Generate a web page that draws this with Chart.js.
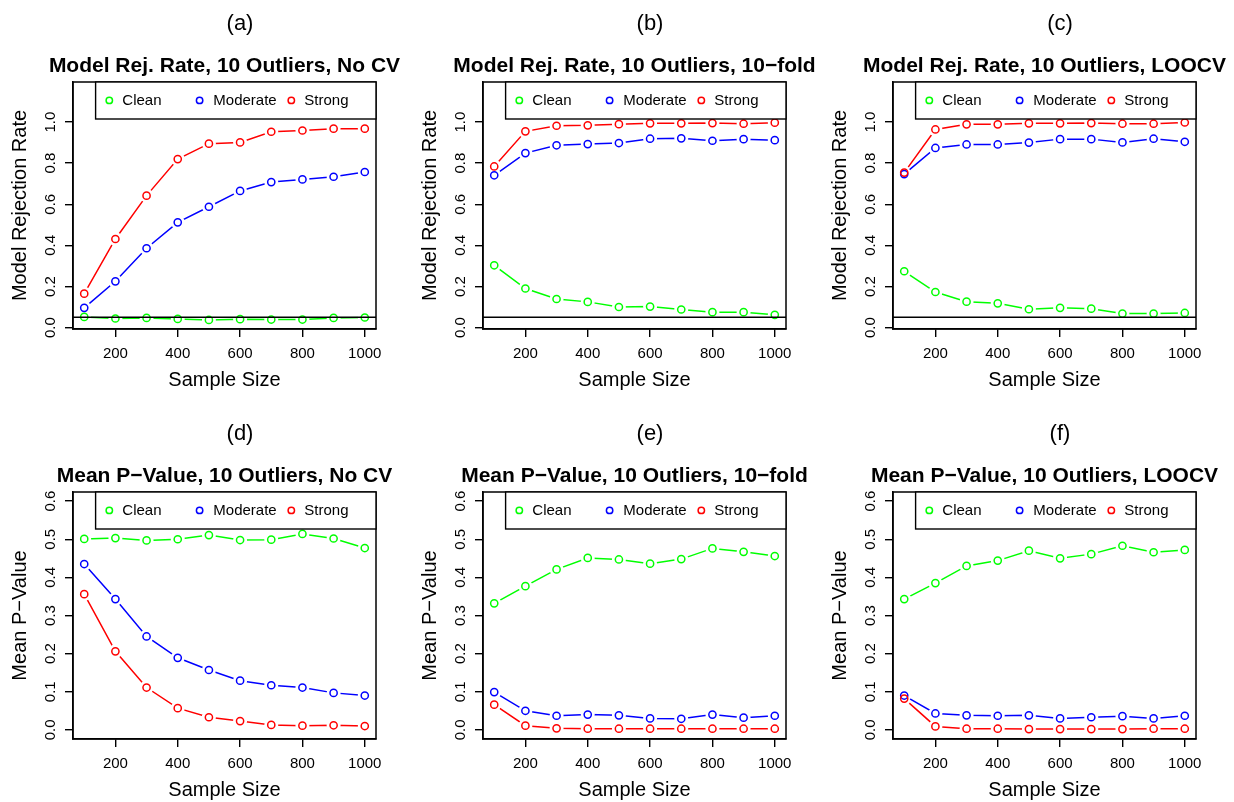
<!DOCTYPE html>
<html>
<head>
<meta charset="utf-8">
<script src="https://cdn.jsdelivr.net/npm/chart.js@4.4.1/dist/chart.umd.min.js"></script>
<style>
html, body { margin: 0; padding: 0; background: #fff; overflow: hidden; }
#wrap { position: relative; width: 1234px; height: 802px; overflow: hidden; }
#wrap canvas { position: absolute; }
</style>
</head>
<body>
<div id="wrap"></div>
<script>
/*-------------------------------------------------------------------------*/
// Simulation results
/*-------------------------------------------------------------------------*/
var sampleSizes = [100, 200, 300, 400, 500, 600, 700, 800, 900, 1000];
var xTicks = [200, 400, 600, 800, 1000];
var rejTicks = [0, 0.2, 0.4, 0.6, 0.8, 1.0];
var pvalTicks = [0, 0.1, 0.2, 0.3, 0.4, 0.5, 0.6];
var seriesNames = ['Clean', 'Moderate', 'Strong'];

// model rejection rate
var rejNoCvClean    = [0.052, 0.044, 0.047, 0.042, 0.037, 0.041, 0.039, 0.039, 0.047, 0.049];
var rejNoCvModerate = [0.096, 0.225, 0.386, 0.512, 0.588, 0.665, 0.708, 0.721, 0.734, 0.757];
var rejNoCvStrong   = [0.165, 0.431, 0.642, 0.820, 0.895, 0.901, 0.953, 0.959, 0.968, 0.968];

var rejTenFoldClean    = [0.303, 0.190, 0.139, 0.125, 0.100, 0.102, 0.088, 0.075, 0.075, 0.062];
var rejTenFoldModerate = [0.741, 0.849, 0.887, 0.893, 0.898, 0.919, 0.921, 0.909, 0.917, 0.912];
var rejTenFoldStrong   = [0.784, 0.955, 0.982, 0.984, 0.990, 0.994, 0.994, 0.995, 0.992, 0.997];

var rejLoocvClean    = [0.274, 0.173, 0.126, 0.118, 0.089, 0.096, 0.092, 0.068, 0.068, 0.071];
var rejLoocvModerate = [0.747, 0.874, 0.891, 0.891, 0.900, 0.917, 0.917, 0.901, 0.919, 0.904];
var rejLoocvStrong   = [0.754, 0.964, 0.989, 0.989, 0.994, 0.994, 0.995, 0.992, 0.992, 0.998];

// mean p-value
var pvalNoCvClean    = [0.501, 0.503, 0.497, 0.500, 0.511, 0.498, 0.499, 0.514, 0.502, 0.477];
var pvalNoCvModerate = [0.435, 0.343, 0.245, 0.189, 0.157, 0.129, 0.117, 0.111, 0.097, 0.090];
var pvalNoCvStrong   = [0.356, 0.206, 0.111, 0.057, 0.033, 0.023, 0.013, 0.011, 0.012, 0.010];

var pvalTenFoldClean    = [0.332, 0.377, 0.421, 0.451, 0.447, 0.436, 0.448, 0.476, 0.467, 0.456];
var pvalTenFoldModerate = [0.099, 0.050, 0.037, 0.040, 0.038, 0.030, 0.029, 0.040, 0.032, 0.037];
var pvalTenFoldStrong   = [0.066, 0.011, 0.004, 0.003, 0.003, 0.003, 0.003, 0.003, 0.003, 0.003];

var pvalLoocvClean    = [0.343, 0.385, 0.430, 0.444, 0.470, 0.450, 0.461, 0.483, 0.466, 0.472];
var pvalLoocvModerate = [0.090, 0.043, 0.038, 0.037, 0.038, 0.030, 0.033, 0.036, 0.030, 0.037];
var pvalLoocvStrong   = [0.082, 0.009, 0.003, 0.003, 0.002, 0.002, 0.002, 0.002, 0.003, 0.003];

var MINUS = '\u2212';
var FONT = '"Liberation Sans", Arial, Helvetica, sans-serif';
var COLORS = ['#00ff00', '#0000ff', '#ff0000'];

var panels = [
	{ tag: '(a)', title: 'Model Rej. Rate, 10 Outliers, No CV', yLabel: 'Model Rejection Rate',
	  series: [rejNoCvClean, rejNoCvModerate, rejNoCvStrong], ticks: rejTicks, yMin: -0.007, yMax: 1.195, refLine: 0.05 },
	{ tag: '(b)', title: 'Model Rej. Rate, 10 Outliers, 10' + MINUS + 'fold', yLabel: 'Model Rejection Rate',
	  series: [rejTenFoldClean, rejTenFoldModerate, rejTenFoldStrong], ticks: rejTicks, yMin: -0.007, yMax: 1.195, refLine: 0.05 },
	{ tag: '(c)', title: 'Model Rej. Rate, 10 Outliers, LOOCV', yLabel: 'Model Rejection Rate',
	  series: [rejLoocvClean, rejLoocvModerate, rejLoocvStrong], ticks: rejTicks, yMin: -0.007, yMax: 1.195, refLine: 0.05 },
	{ tag: '(d)', title: 'Mean P' + MINUS + 'Value, 10 Outliers, No CV', yLabel: 'Mean P' + MINUS + 'Value',
	  series: [pvalNoCvClean, pvalNoCvModerate, pvalNoCvStrong], ticks: pvalTicks, yMin: -0.024, yMax: 0.624, refLine: null },
	{ tag: '(e)', title: 'Mean P' + MINUS + 'Value, 10 Outliers, 10' + MINUS + 'fold', yLabel: 'Mean P' + MINUS + 'Value',
	  series: [pvalTenFoldClean, pvalTenFoldModerate, pvalTenFoldStrong], ticks: pvalTicks, yMin: -0.024, yMax: 0.624, refLine: null },
	{ tag: '(f)', title: 'Mean P' + MINUS + 'Value, 10 Outliers, LOOCV', yLabel: 'Mean P' + MINUS + 'Value',
	  series: [pvalLoocvClean, pvalLoocvModerate, pvalLoocvStrong], ticks: pvalTicks, yMin: -0.024, yMax: 0.624, refLine: null }
];

/*-------------------------------------------------------------------------*/
// Base-graphics look: gapped lines, box, rotated y labels, legend
/*-------------------------------------------------------------------------*/
var rStyle = {
	id: 'rstyle',
	// cut a hole round every point so the line stops short of the circles
	beforeDatasetDraw: function(chart, args) {
		var ds = chart.data.datasets[args.index];
		if (!ds.gapLine) return;
		var ctx = chart.ctx;
		ctx.save();
		ctx.beginPath();
		ctx.rect(0, 0, chart.width, chart.height);
		args.meta.data.forEach(function(pt) {
			ctx.moveTo(pt.x + 7, pt.y);
			ctx.arc(pt.x, pt.y, 7, 0, Math.PI * 2);
		});
		ctx.clip('evenodd');
	},
	afterDatasetDraw: function(chart, args) {
		if (chart.data.datasets[args.index].gapLine) chart.ctx.restore();
	},
	afterDatasetsDraw: function(chart, args, opts) {
		var ctx = chart.ctx, a = chart.chartArea;
		ctx.save();
		ctx.strokeStyle = '#000';
		if (opts.refLine != null) {
			var yy = chart.scales.y.getPixelForValue(opts.refLine);
			ctx.lineWidth = 1.4;
			ctx.beginPath();
			ctx.moveTo(a.left, yy);
			ctx.lineTo(a.right, yy);
			ctx.stroke();
		}
		ctx.lineWidth = 1.5;
		ctx.strokeRect(a.left, a.top, a.right - a.left, a.bottom - a.top);
		ctx.restore();
	},
	afterDraw: function(chart, args, opts) {
		var ctx = chart.ctx, a = chart.chartArea;
		var xs = chart.scales.x, ys = chart.scales.y;
		var cx = (a.left + a.right) / 2, cy = (a.top + a.bottom) / 2;
		ctx.save();
		ctx.fillStyle = '#000';
		ctx.textAlign = 'center';
		ctx.textBaseline = 'middle';

		// tick labels
		ctx.font = '15px ' + FONT;
		xs.ticks.forEach(function(t) {
			ctx.fillText(String(t.value), xs.getPixelForValue(t.value), 354);
		});
		ys.ticks.forEach(function(t) {
			ctx.save();
			ctx.translate(51, ys.getPixelForValue(t.value));
			ctx.rotate(-Math.PI / 2);
			ctx.fillText(t.value.toFixed(1), 0, 0);
			ctx.restore();
		});

		// axis titles
		ctx.font = '20px ' + FONT;
		ctx.fillText('Sample Size', cx, 380);
		ctx.save();
		ctx.translate(20, cy);
		ctx.rotate(-Math.PI / 2);
		ctx.fillText(opts.yLabel, 0, 0);
		ctx.restore();

		// panel tag and main title
		ctx.font = '22px ' + FONT;
		ctx.fillText(opts.tag, cx + 15.5, 24);
		ctx.font = 'bold 21px ' + FONT;
		ctx.fillText(opts.title, cx, 66);

		// legend, top right, one row
		var lx = a.right - 280.4, ly = a.top, lh = 37;
		ctx.fillStyle = '#fff';
		ctx.fillRect(lx, ly, a.right - lx, lh);
		ctx.strokeStyle = '#000';
		ctx.lineWidth = 1.4;
		ctx.strokeRect(lx, ly, a.right - lx, lh);
		var symX = [13.7, 104, 195.7], txtX = [26.7, 117.7, 208.7];
		ctx.font = '15px ' + FONT;
		ctx.textAlign = 'left';
		ctx.lineWidth = 1.5;
		for (var i = 0; i < seriesNames.length; i++) {
			ctx.strokeStyle = COLORS[i];
			ctx.beginPath();
			ctx.arc(lx + symX[i], ly + 18.4, 3.2, 0, Math.PI * 2);
			ctx.stroke();
			ctx.fillStyle = '#000';
			ctx.fillText(seriesNames[i], lx + txtX[i], ly + 18.9);
		}
		ctx.restore();
	}
};

/*-------------------------------------------------------------------------*/
// Chart setup
/*-------------------------------------------------------------------------*/
Chart.defaults.font.family = FONT;

function toPoints(values) {
	return values.map(function(v, i) { return { x: sampleSizes[i], y: v }; });
}

function buildDatasets(series) {
	var sets = [];
	series.forEach(function(values, i) {
		// later series sit on top, lines below their own points
		sets.push({
			data: toPoints(values), gapLine: true, borderColor: COLORS[i], borderWidth: 1.5,
			pointRadius: 0, showLine: true, tension: 0, order: 2 * (series.length - i) - 1
		});
		sets.push({
			data: toPoints(values), showLine: false, borderColor: COLORS[i],
			pointBorderColor: COLORS[i], pointBackgroundColor: 'rgba(0,0,0,0)',
			pointRadius: 3.6, pointBorderWidth: 1.5, order: 2 * (series.length - i) - 2
		});
	});
	return sets;
}

function CLMS_drawPanel(panel, idx) {
	var col = idx % 3, row = Math.floor(idx / 3);
	var W = 414, H = 410;
	var canvas = document.createElement('canvas');
	canvas.width = W;
	canvas.height = H;
	canvas.style.width = W + 'px';
	canvas.style.height = H + 'px';
	canvas.style.left = (col * 410) + 'px';
	canvas.style.top = (row * 410) + 'px';
	document.getElementById('wrap').appendChild(canvas);

	var axisGrid = { display: true, drawOnChartArea: false, drawTicks: true, tickLength: 8, color: '#000', lineWidth: 1.4 };

	new Chart(canvas, {
		type: 'line',
		data: { datasets: buildDatasets(panel.series) },
		plugins: [rStyle],
		options: {
			responsive: false,
			animation: false,
			events: [],
			layout: { padding: { top: 82, left: 0, right: W - 376, bottom: 0 } },
			scales: {
				x: {
					type: 'linear', min: 64, max: 1036,
					grid: axisGrid, border: { display: true, color: '#000', width: 1.5 },
					ticks: { display: false },
					afterBuildTicks: function(s) { s.ticks = xTicks.map(function(v) { return { value: v }; }); },
					afterFit: function(s) { s.height = H - 329; }
				},
				y: {
					type: 'linear', min: panel.yMin, max: panel.yMax,
					grid: axisGrid, border: { display: true, color: '#000', width: 1.5 },
					ticks: { display: false },
					afterBuildTicks: function(s) { s.ticks = panel.ticks.map(function(v) { return { value: v }; }); },
					afterFit: function(s) { s.width = 73; }
				}
			},
			plugins: {
				legend: { display: false },
				tooltip: { enabled: false },
				title: { display: false },
				rstyle: { tag: panel.tag, title: panel.title, yLabel: panel.yLabel, refLine: panel.refLine }
			}
		}
	});
}

panels.forEach(CLMS_drawPanel);
</script>
</body>
</html>
